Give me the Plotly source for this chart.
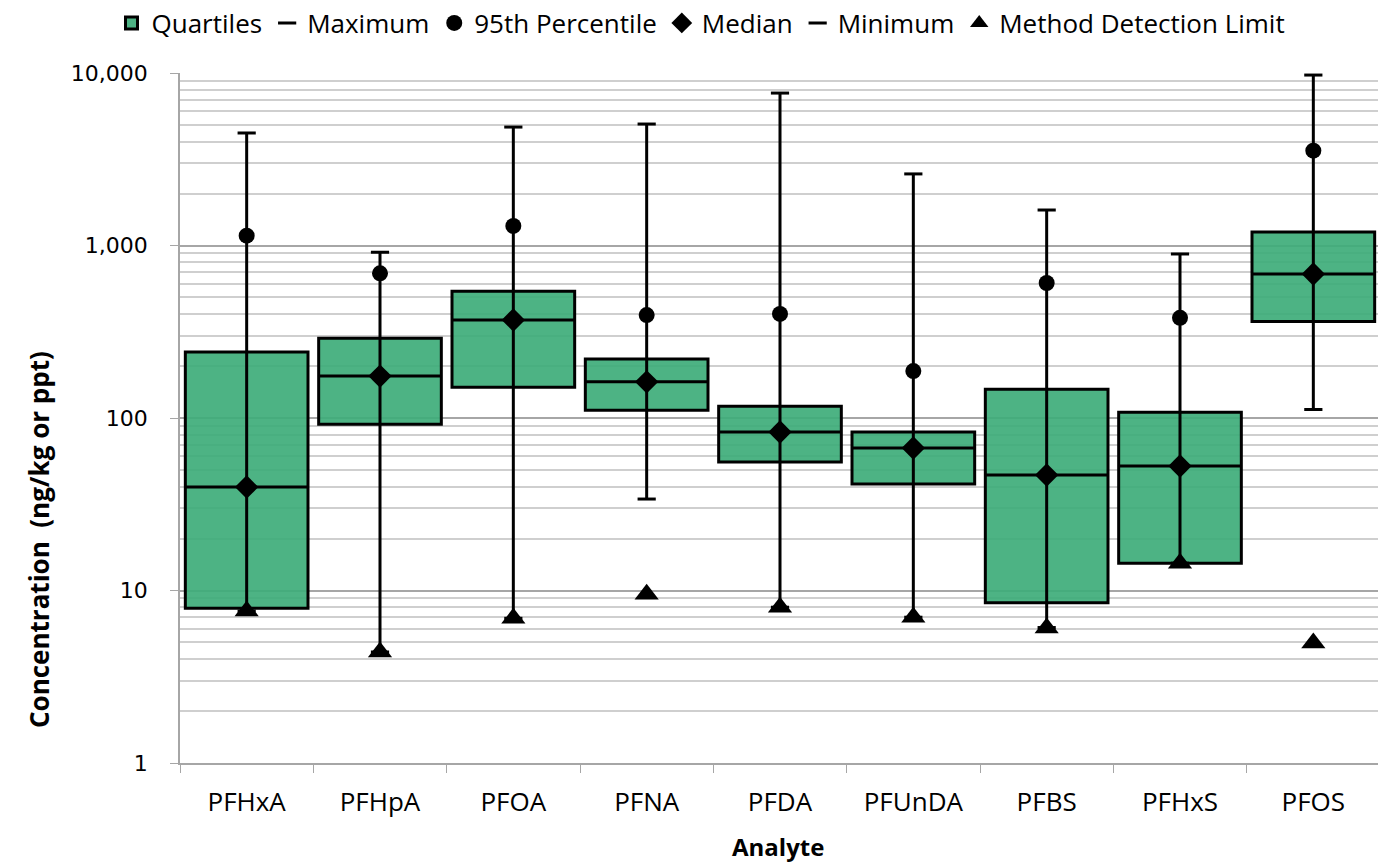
import plotly.graph_objects as go

analytes = ["PFHxA", "PFHpA", "PFOA", "PFNA", "PFDA", "PFUnDA", "PFBS", "PFHxS", "PFOS"]
q1_vals = [7.9, 92, 151, 111, 55.6, 41.4, 8.5, 14.4, 363]
median_vals = [39.8, 175, 370, 162, 83, 67, 46.7, 52.7, 684]
q3_vals = [241, 290, 543, 220, 117, 83, 147, 108, 1197]
max_vals = [4490, 914, 4860, 5060, 7650, 2600, 1606, 893, 9730]
min_vals = [7.6, 4.4, 6.9, 33.9, 8.0, 7.0, 6.1, 14.4, 112]
p95_vals = [1140, 690, 1298, 395, 401, 187, 606, 381, 3548]
mdl_vals = [7.6, 4.4, 6.9, 9.5, 8.0, 7.0, 6.07, 14.4, 4.97]

y_tickvals = [1, 10, 100, 1000, 10000]
y_ticktext = ["1", "10", "100", "1,000", "10,000"]

GREEN = "rgba(62,172,122,0.92)"
TXT = "Open Sans, Lato, Arial, sans-serif"

fig = go.Figure()

fig.add_trace(go.Box(
    x=analytes, q1=q1_vals, median=median_vals, q3=q3_vals,
    lowerfence=q1_vals, upperfence=q3_vals,
    fillcolor=GREEN, line=dict(color="black", width=3),
    width=0.92, whiskerwidth=0, name="Quartiles", hoverinfo="skip",
    boxpoints=False,
))

# whiskers (min to max)
fig.add_trace(go.Scatter(
    x=analytes, y=median_vals, mode="markers",
    marker=dict(size=0.1, color="black", opacity=0),
    error_y=dict(type="data", symmetric=False,
                 array=[mx - md for mx, md in zip(max_vals, median_vals)],
                 arrayminus=[md - mn for md, mn in zip(median_vals, min_vals)],
                 color="black", thickness=3, width=0),
    showlegend=False, hoverinfo="skip",
))

fig.add_trace(go.Scatter(
    x=analytes, y=max_vals, mode="markers", name="Maximum",
    marker=dict(symbol="line-ew", size=13, color="black", line=dict(width=3, color="black")),
))
fig.add_trace(go.Scatter(
    x=analytes, y=p95_vals, mode="markers", name="95th Percentile",
    marker=dict(symbol="circle", size=16, color="black"),
))
fig.add_trace(go.Scatter(
    x=analytes, y=median_vals, mode="markers", name="Median",
    marker=dict(symbol="diamond", size=18, color="black"),
))
fig.add_trace(go.Scatter(
    x=analytes, y=min_vals, mode="markers", name="Minimum",
    marker=dict(symbol="line-ew", size=13, color="black", line=dict(width=3, color="black")),
))
fig.add_trace(go.Scatter(
    x=analytes, y=mdl_vals, mode="markers", name="Method Detection Limit",
    marker=dict(symbol="triangle-up", size=21, color="black"),
))

# page body has an 8px margin: figure sits at (8, 8) in the window
OFF = 8
W, H = 1386 - OFF, 863 - OFF
PL, PR = 180 - OFF, 1380 - OFF
PT, PB = 73 - OFF, 763 - OFF
PW, PH = PR - PL, PB - PT

def px_x(ax):
    return (ax - OFF - PL) / PW

def px_y(ay):
    return (PB - (ay - OFF)) / PH

fig.update_layout(
    width=W, height=H,
    paper_bgcolor="white", plot_bgcolor="white",
    margin=dict(l=PL, r=W - PR, t=PT, b=H - PB, autoexpand=False),
    font=dict(family=TXT, color="black", size=20),
    legend=dict(orientation="h", x=px_x(701), xanchor="center",
                y=px_y(23), yanchor="middle",
                font=dict(family=TXT, size=26), itemwidth=30,
                tracegroupgap=0, bgcolor="rgba(0,0,0,0)"),
    showlegend=True,
    annotations=[
        dict(text="<b>Concentration  (ng/kg or ppt)</b>", textangle=-90,
             xref="paper", yref="paper", x=px_x(39), y=px_y(540),
             xanchor="center", yanchor="middle", showarrow=False,
             font=dict(family=TXT, size=26, color="black")),
        dict(text="<b>Analyte</b>",
             xref="paper", yref="paper", x=px_x(778), y=px_y(846),
             xanchor="center", yanchor="middle", showarrow=False,
             font=dict(family=TXT, size=24, color="black")),
    ],
)

fig.update_xaxes(
    type="category", range=[-0.5, 8.5], showline=True, linecolor="#a6a6a6", linewidth=1.5,
    ticks="outside", tickson="boundaries", ticklen=8, tickcolor="#a6a6a6",
    tickfont=dict(family=TXT, size=26), showgrid=False, automargin=False,
    ticklabelstandoff=15,
)
minor_vals = [m * 10 ** d for d in range(4) for m in range(2, 10)]
fig.update_yaxes(
    type="log", range=[0, 4], tickvals=y_tickvals, ticktext=y_ticktext,
    showline=True, linecolor="#a6a6a6", linewidth=1.5,
    ticks="outside", ticklen=8, tickcolor="#a6a6a6",
    tickfont=dict(family="DejaVu Sans, Verdana, sans-serif", size=22),
    ticklabelstandoff=18, automargin=False,
    showgrid=True, gridcolor="#a6a6a6", gridwidth=1.5,
    minor=dict(tickvals=minor_vals, showgrid=True, gridcolor="#cfcfcf", gridwidth=1.5, ticks=""),
    zeroline=False,
)

fig.write_html("out.html")
